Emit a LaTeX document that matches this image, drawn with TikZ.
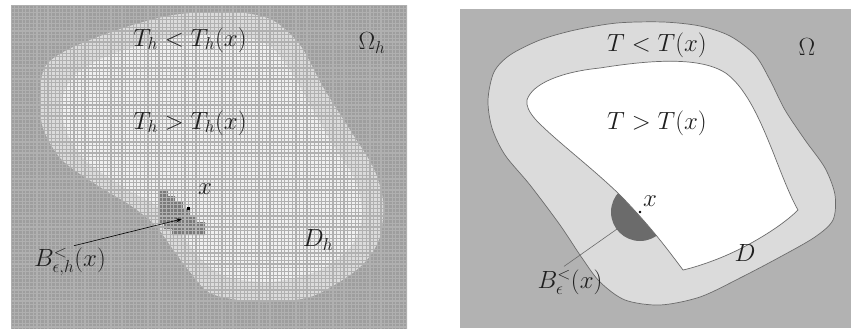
\documentclass[tikz,border=0pt]{standalone}
\usetikzlibrary{arrows.meta}
\definecolor{lbg}{gray}{0.62}
\definecolor{lmid}{gray}{0.86}
\definecolor{llight}{gray}{0.94}
\definecolor{ldark}{gray}{0.48}
\definecolor{gridc}{gray}{0.69}
\definecolor{rbg}{gray}{0.70}
\definecolor{rring}{gray}{0.86}
\definecolor{rdark}{gray}{0.42}
\definecolor{outl}{gray}{0.42}
\definecolor{txt}{gray}{0.12}
\begin{document}
\begin{tikzpicture}[x=1pt,y=-1pt,
  lbl/.style={font=\fontsize{24}{28}\selectfont, inner sep=0pt, text=txt},
  gridline/.style={draw=gridc, line width=1.2pt},
  outline/.style={draw=outl, line width=0.7pt},
  pointer/.style={-{Stealth[length=6pt,width=4pt]}, line width=0.6pt}]
\useasboundingbox (0,0) rectangle (851,330);
% ---------------- left panel ----------------
\begin{scope}
\clip (11,5) rectangle (407,329);
\fill[lbg] (11,5) rectangle (407,329);
\fill[lmid] plot[smooth cycle] coordinates {
 (40,95) (45,67) (67,50) (117,30) (173,15) (233,12) (272,20) (300,45)
 (323,87) (350,130) (373,167) (383,200) (381,233) (370,256) (350,275)
 (310,297) (260,302) (212,294) (190,272) (172,248) (155,225) (130,205)
 (100,187) (62,160) (43,128)};
\fill[llight] plot[smooth cycle] coordinates {
 (62,100) (75,75) (110,55) (170,38) (230,35) (268,45) (290,70)
 (310,105) (333,145) (355,180) (362,215) (352,245) (320,270)
 (270,282) (225,276) (200,258) (180,232) (160,208) (125,188) (85,160) (66,130)};
\fill[ldark] (160,190) -- (168,190) -- (168,196) -- (175,196) -- (175,202)
 -- (183,202) -- (183,209) -- (190,209) -- (190,216) -- (197,216) -- (197,222)
 -- (205,222) -- (205,235) -- (172,235) -- (172,229) -- (164,229) -- (164,223)
 -- (160,223) -- cycle;
\foreach \x in {11,14.7,...,408} \draw[gridline] (\x,5) -- (\x,329);
\foreach \y in {5,8.7,...,330} \draw[gridline] (11,\y) -- (407,\y);
\end{scope}
\fill[black] (186.5,206.5) rectangle (189.5,209.5);
\coordinate (tipL) at (182,219);
\node[lbl] (TLa) at (190,40) {$T_h < T_h(x)$};
\node[lbl] (OmL) at (372,43) {$\Omega_h$};
\node[lbl] (TLb) at (190,123) {$T_h > T_h(x)$};
\node[lbl] (xL) at (205,189) {$x$};
\node[lbl] (DL) at (318,240) {$D_h$};
\node[lbl] (BL) at (70,262) {$B^{<}_{\epsilon,h}(x)$};
\draw[pointer] ([xshift=4pt,yshift=2pt]BL.north) -- (tipL);
% ---------------- right panel ----------------
\fill[rbg] (460,9) rectangle (851,328);
\path[fill=rring, outline] plot[smooth cycle] coordinates {
 (488,100) (494,72) (510,55) (540,40) (575,30) (617,23) (663,22) (700,26)
 (730,36) (755,55) (770,80) (785,110) (805,140) (825,168) (835,195)
 (833,220) (815,237) (780,257) (740,278) (700,297) (660,305) (625,300)
 (600,282) (582,258) (560,225) (530,185) (505,155) (492,128)};
\fill[rdark] (640,212) circle (29);
\path[fill=white, outline] (527,100) .. controls (532,84) and (560,72) .. (600,68)
 .. controls (650,60) and (702,56) .. (727,74)
 .. controls (748,90) and (762,125) .. (773,152)
 .. controls (782,175) and (790,196) .. (798,210)
 .. controls (780,228) and (745,248) .. (720,258)
 .. controls (705,264) and (692,268) .. (683,270)
 .. controls (668,250) and (652,228) .. (620,195)
 .. controls (590,166) and (555,140) .. (536,120)
 .. controls (529,112) and (526,106) .. (527,100) -- cycle;
\fill[black] (640,212) circle (1.3);
\coordinate (tipR) at (627,222);
\node[lbl] (TRa) at (657,45) {$T < T(x)$};
\node[lbl] (OmR) at (807,47) {$\Omega$};
\node[lbl] (TRb) at (657,123) {$T > T(x)$};
\node[lbl] (xR) at (650,201) {$x$};
\node[lbl] (DR) at (745,253) {$D$};
\node[lbl] (BR) at (570,282) {$B^{<}_{\epsilon}(x)$};
\draw[pointer, draw=outl] ([xshift=-6pt,yshift=3pt]BR.north) -- (tipR);
\end{tikzpicture}
\end{document}
